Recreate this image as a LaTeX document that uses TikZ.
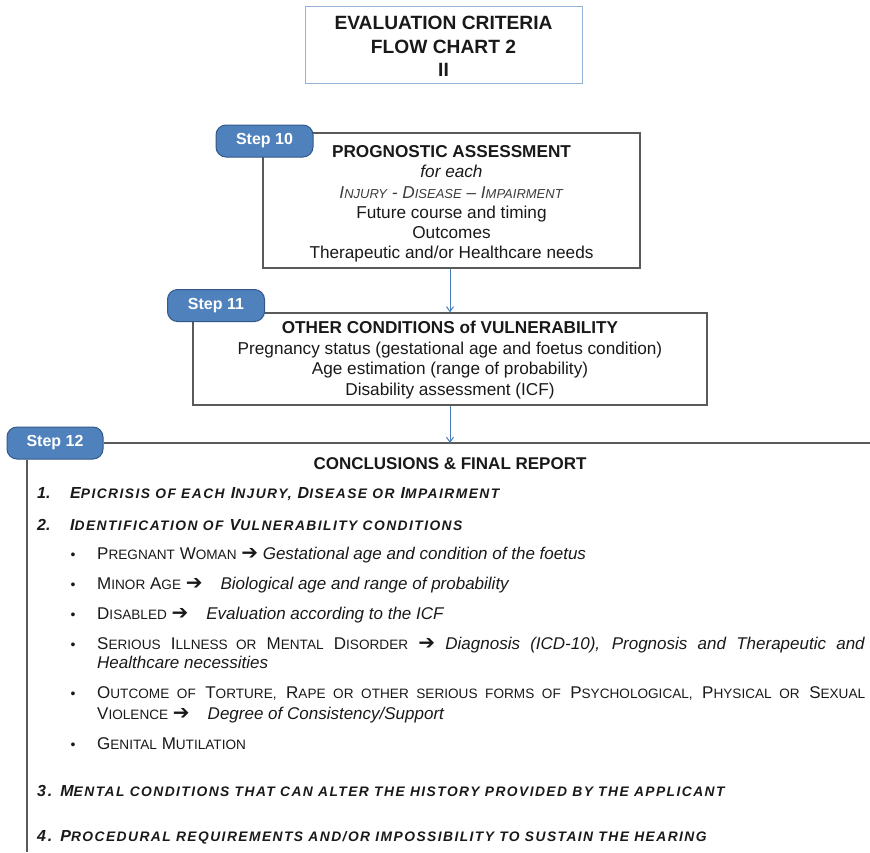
\documentclass[tikz,border=0pt]{standalone}
\usepackage{fontspec}
\setmainfont{Liberation Sans}
\newfontfamily\trk[LetterSpace=10.5]{Liberation Sans}
\newfontfamily\sym{DejaVu Sans}
\usetikzlibrary{arrows.meta}
\definecolor{tabfill}{RGB}{79,129,189}
\definecolor{tabedge}{RGB}{52,88,135}
\definecolor{titleedge}{RGB}{149,179,215}
\definecolor{boxedge}{RGB}{90,90,90}
\definecolor{arrblue}{RGB}{74,126,187}
\definecolor{ink}{RGB}{25,25,25}
\newcommand\sma[1]{{\fontsize{13.8}{13.8}\selectfont #1}}
\newcommand\smb[1]{{\fontsize{13.6}{13.6}\selectfont #1}}
\newcommand\smc[1]{{\fontsize{13}{13}\selectfont #1}}
\newcommand\arw{{\sym\fontsize{20}{20}\selectfont\bfseries ➔}}
\tikzset{
  stepbox/.style={draw=boxedge, line width=1.1pt, inner sep=0pt},
  boxtxt/.style={text=ink, align=center, inner sep=0pt},
  steptab/.style={draw=tabedge, fill=tabfill, line width=1pt, rounded corners=10pt, text=white,
     minimum width=97pt, minimum height=32pt, inner sep=0pt, font=\fontsize{16}{16}\selectfont\bfseries},
  arr/.style={draw=arrblue, line width=1pt, -{Straight Barb[length=5pt,width=7pt]}},
  itemtxt/.style={anchor=base west, inner sep=0pt, text=ink, font=\trk\fontsize{16}{16}\selectfont\itshape\bfseries},
  numtxt/.style={anchor=base west, inner sep=0pt, text=ink, font=\fontsize{16}{16}\selectfont\itshape\bfseries},
  bultxt/.style={anchor=base west, inner sep=0pt, text=ink, font=\fontsize{17}{17}\selectfont},
  dot/.style={anchor=base, inner sep=0pt, text=ink, font=\fontsize{14}{14}\selectfont},
  rule12/.style={draw=boxedge, line width=1.1pt}
}
\begin{document}
\begin{tikzpicture}[x=1pt,y=-1pt]
\useasboundingbox (0,0) rectangle (870,852);
% title
\node[draw=titleedge, line width=1pt, minimum width=277pt, minimum height=77pt, inner sep=0pt] (title) at (443.5,44.5) {};
\node[boxtxt, font=\fontsize{19.2}{23.5}\selectfont\bfseries] (titlet) at (443.5,46.5)
  {EVALUATION CRITERIA\\FLOW CHART 2\\II};
% step 10
\node[stepbox, minimum width=377pt, minimum height=135pt] (s10) at (451.5,200.5) {};
\node[boxtxt, font=\fontsize{17.2}{20.3}\selectfont] (s10t) at (451.5,204)
  {\textbf{PROGNOSTIC ASSESSMENT}\\ \textit{for each}\\
   {\color{ink!85}\textit{I\smc{NJURY} - D\smc{ISEASE} -- I\smc{MPAIRMENT}}}\\
   Future course and timing\\ Outcomes\\ Therapeutic and/or Healthcare needs};
\node[steptab] (t10) at (264.5,141) {Step 10};
% step 11
\node[stepbox, minimum width=514pt, minimum height=92pt] (s11) at (450,359) {};
\node[boxtxt, font=\fontsize{17.2}{20.7}\selectfont] (s11t) at (450,360)
  {\textbf{OTHER CONDITIONS of VULNERABILITY}\\
   Pregnancy status (gestational age and foetus condition)\\
   Age estimation (range of probability)\\
   Disability assessment (ICF)};
\node[steptab] (t11) at (216,305.5) {Step 11};
% step 12 frame
\coordinate (c12) at (450,443);
\coordinate (e12) at (870,443);
\coordinate (b12) at (27,852);
\node[steptab, minimum width=96pt] (t12) at (55,443) {Step 12};
\draw[rule12] (t12.east) -- (e12);
\draw[rule12] (t12.south -| b12) -- (b12);
% arrows
\draw[arr] (s11.north |- s10.south) -- (s11.north);
\draw[arr] (s11.south) -- (c12);
% step 12 contents
\node[anchor=base, inner sep=0pt, text=ink, font=\fontsize{17}{17}\selectfont\bfseries] (concl) at (450,469)
  {CONCLUSIONS \& FINAL REPORT};
\node[numtxt] (n1) at (37,498) {1.};
\node[itemtxt] (i1) at (70,498) {E\sma{PICRISIS OF EACH} I\sma{NJURY,} D\sma{ISEASE OR} I\sma{MPAIRMENT}};
\node[numtxt] (n2) at (37,530) {2.};
\node[itemtxt] (i2) at (70,530) {I\sma{DENTIFICATION OF} V\sma{ULNERABILITY CONDITIONS}};
\node[dot] (d1) at (73,559) {•};
\node[bultxt] (b1) at (97,559) {P\smb{REGNANT} W\smb{OMAN} \arw{} \textit{Gestational age and condition of the foetus}};
\node[dot] (d2) at (73,589) {•};
\node[bultxt] (b2) at (97,589) {M\smb{INOR} A\smb{GE} \arw{}\hspace{18pt}\textit{Biological age and range of probability}};
\node[dot] (d3) at (73,619) {•};
\node[bultxt] (b3) at (97,619) {D\smb{ISABLED} \arw{}\hspace{18pt}\textit{Evaluation according to the ICF}};
\node[dot] (d4) at (73,649) {•};
\node[bultxt] (b4) at (97,649) {\makebox[768pt][s]{S\smb{ERIOUS} I\smb{LLNESS OR} M\smb{ENTAL} D\smb{ISORDER} \arw{} \textit{Diagnosis (ICD-10), Prognosis and Therapeutic and}}};
\node[bultxt] (b4b) at (97,668) {\textit{Healthcare necessities}};
\node[dot] (d5) at (73,698) {•};
\node[bultxt] (b5) at (97,698) {\makebox[768pt][s]{O\smb{UTCOME OF} T\smb{ORTURE,} R\smb{APE OR OTHER SERIOUS FORMS OF} P\smb{SYCHOLOGICAL,} P\smb{HYSICAL OR} S\smb{EXUAL}}};
\node[bultxt] (b5b) at (97,719) {V\smb{IOLENCE} \arw{}\hspace{18pt}\textit{Degree of Consistency/Support}};
\node[dot] (d6) at (73,749) {•};
\node[bultxt] (b6) at (97,749) {G\smb{ENITAL} M\smb{UTILATION}};
\node[itemtxt] (i3) at (37,796) {3. M\sma{ENTAL CONDITIONS THAT CAN ALTER THE HISTORY PROVIDED BY THE APPLICANT}};
\node[itemtxt] (i4) at (37,841) {4. P\sma{ROCEDURAL REQUIREMENTS AND/OR IMPOSSIBILITY TO SUSTAIN THE HEARING}};
\end{tikzpicture}
\end{document}
